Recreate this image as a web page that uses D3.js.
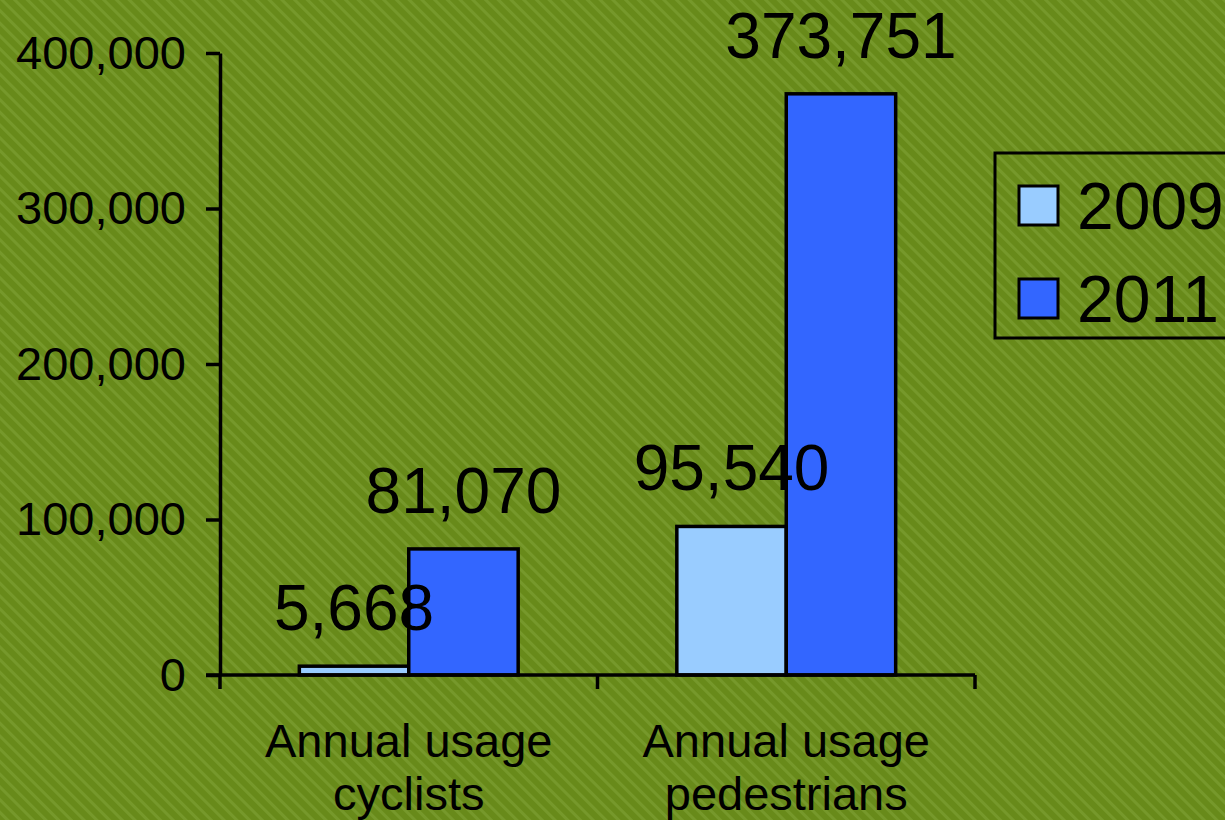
<!DOCTYPE html>
<html>
<head>
<meta charset="utf-8">
<script src="https://cdn.jsdelivr.net/npm/d3@7"></script>
<style>
  body { margin: 0; overflow: hidden; }
  svg { display: block; font-family: "Liberation Sans", Arial, Helvetica, sans-serif; }
</style>
</head>
<body>
<div id="container"></div>
<script>
/* DATA */
const categories = ["Annual usage cyclists", "Annual usage pedestrians"];
const categoryLines = [["Annual usage", "cyclists"], ["Annual usage", "pedestrians"]];
const seriesNames = ["2009", "2011"];
const values2009 = [5668, 95540];
const values2011 = [81070, 373751];
const yTicks = [0, 100000, 200000, 300000, 400000];

const width = 1225, height = 820;
const colors = { "2009": "#99ccff", "2011": "#3366ff" };

const svg = d3.select("#container").append("svg")
  .attr("width", width)
  .attr("height", height);

// striped green background
const defs = svg.append("defs");
const pattern = defs.append("pattern")
  .attr("id", "stripes")
  .attr("patternUnits", "userSpaceOnUse")
  .attr("width", 9)
  .attr("height", 9)
  .attr("patternTransform", "rotate(-45)");
pattern.append("rect").attr("width", 9).attr("height", 9).attr("fill", "#688a1a");
pattern.append("rect").attr("width", 3).attr("height", 9).attr("fill", "#76982b");

svg.append("rect")
  .attr("width", width)
  .attr("height", height)
  .attr("fill", "url(#stripes)");

// scales
const x0 = 220, x1 = 975;
const xScale = d3.scaleBand()
  .domain(categories)
  .range([x0, x1]);

const inner = d3.scaleBand()
  .domain(seriesNames)
  .range([0, xScale.bandwidth()])
  .paddingOuter(0.725)
  .paddingInner(0);

const yScale = d3.scaleLinear()
  .domain([0, 400000])
  .range([675, 53]);

// bars
const rows = [];
categories.forEach((c, i) => {
  rows.push({ cat: c, series: "2009", value: values2009[i] });
  rows.push({ cat: c, series: "2011", value: values2011[i] });
});

svg.selectAll("rect.bar")
  .data(rows)
  .join("rect")
  .attr("class", "bar")
  .attr("x", d => xScale(d.cat) + inner(d.series))
  .attr("y", d => yScale(d.value))
  .attr("width", inner.bandwidth())
  .attr("height", d => yScale(0) - yScale(d.value))
  .attr("fill", d => colors[d.series])
  .attr("stroke", "#000")
  .attr("stroke-width", 3.5);

// value labels
svg.selectAll("text.val")
  .data(rows)
  .join("text")
  .attr("class", "val")
  .attr("x", d => xScale(d.cat) + inner(d.series) + inner.bandwidth() / 2)
  .attr("y", d => yScale(d.value) - 36)
  .attr("text-anchor", "middle")
  .attr("font-size", 64)
  .attr("fill", "#000")
  .text(d => d3.format(",")(d.value));

// y axis
const yAxis = d3.axisLeft(yScale)
  .tickValues(yTicks)
  .tickFormat(d3.format(","))
  .tickSize(14)
  .tickPadding(20)
  .tickSizeOuter(0);

const gy = svg.append("g")
  .attr("transform", `translate(${x0},0)`)
  .call(yAxis);
gy.select(".domain").attr("stroke", "#000").attr("stroke-width", 3.5);
gy.selectAll(".tick line").attr("stroke", "#000").attr("stroke-width", 3.5);
gy.selectAll(".tick text")
  .attr("font-size", 47)
  .attr("fill", "#000")
  .attr("font-family", "Liberation Sans, Arial, sans-serif");

// x axis line with category ticks
svg.append("line")
  .attr("x1", x0 - 14).attr("x2", x1)
  .attr("y1", yScale(0)).attr("y2", yScale(0))
  .attr("stroke", "#000").attr("stroke-width", 3.5);

const xTickPos = [x0].concat(categories.map(c => xScale(c) + xScale.bandwidth()));
svg.selectAll("line.xtick")
  .data(xTickPos)
  .join("line")
  .attr("class", "xtick")
  .attr("x1", d => d).attr("x2", d => d)
  .attr("y1", yScale(0)).attr("y2", yScale(0) + 14)
  .attr("stroke", "#000").attr("stroke-width", 3.5);

// category labels
const catText = svg.selectAll("text.cat")
  .data(categories)
  .join("text")
  .attr("class", "cat")
  .attr("text-anchor", "middle")
  .attr("font-size", 47)
  .attr("fill", "#000");
catText.selectAll("tspan")
  .data((d, i) => categoryLines[i].map(t => ({ t, c: d })))
  .join("tspan")
  .attr("x", d => xScale(d.c) + xScale.bandwidth() / 2)
  .attr("y", (d, j) => 757 + j * 53)
  .text(d => d.t);

// legend
const legend = svg.append("g");
legend.append("rect")
  .attr("x", 995).attr("y", 153)
  .attr("width", 260).attr("height", 185)
  .attr("fill", "none")
  .attr("stroke", "#000")
  .attr("stroke-width", 3);

const items = legend.selectAll("g.item")
  .data(seriesNames)
  .join("g")
  .attr("class", "item")
  .attr("transform", (d, i) => `translate(1019,${186 + i * 93})`);
items.append("rect")
  .attr("width", 39).attr("height", 39)
  .attr("fill", d => colors[d])
  .attr("stroke", "#000")
  .attr("stroke-width", 3);
items.append("text")
  .attr("x", 58)
  .attr("y", 43)
  .attr("font-size", 66)
  .attr("fill", "#000")
  .text(d => d);
</script>
</body>
</html>
